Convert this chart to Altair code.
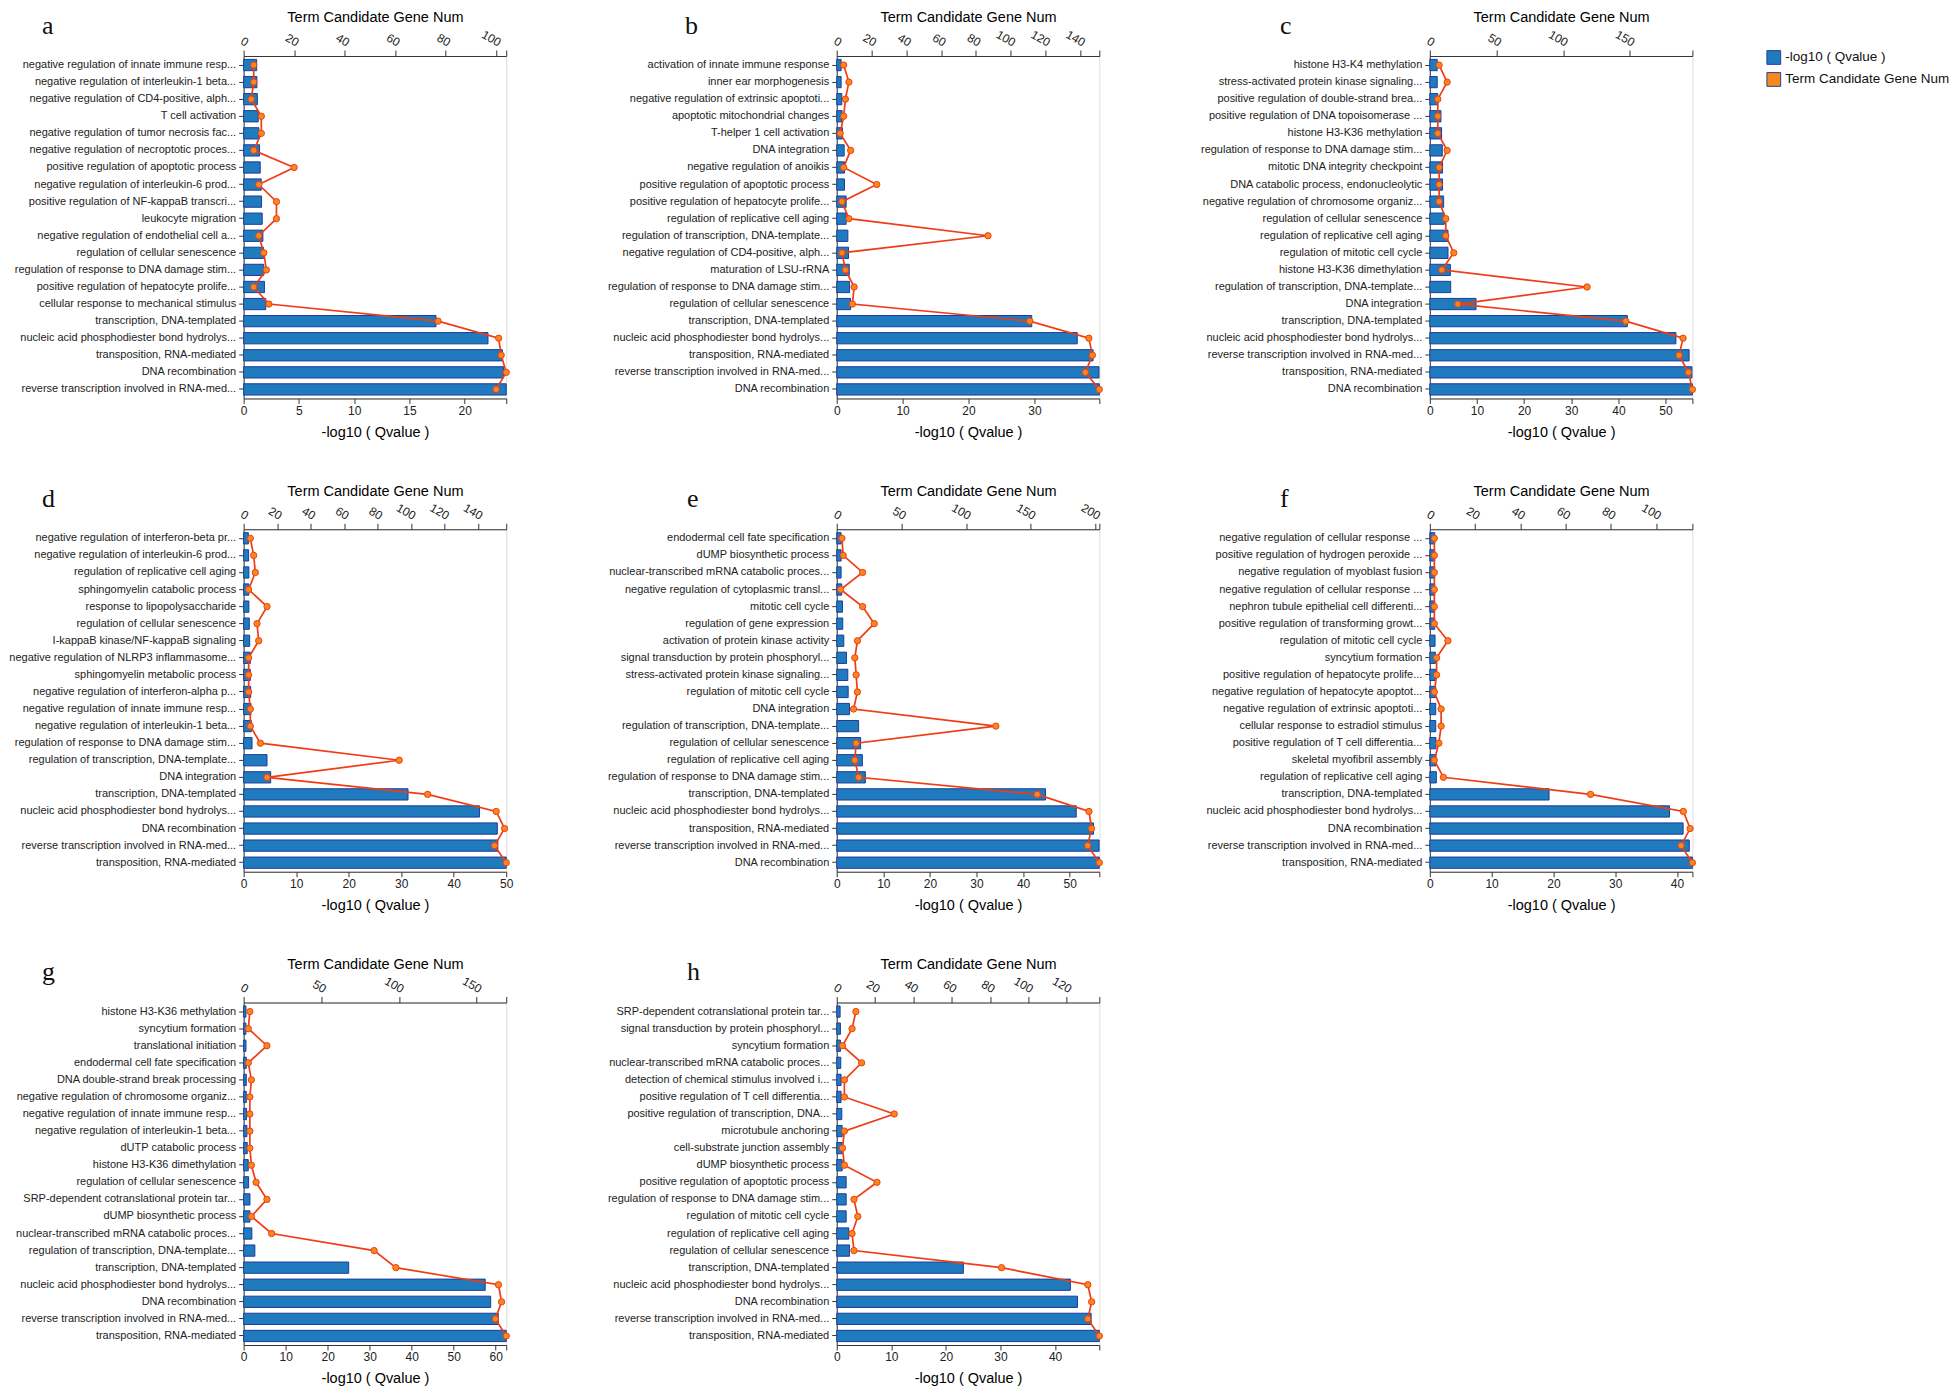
import json
import altair as alt
import pandas as pd

LEG_Q = "-log10 ( Qvalue )"
LEG_G = "Term Candidate Gene Num"

# ---------------- panel a ----------------
a_terms = ["negative regulation of innate immune resp...", "negative regulation of interleukin-1 beta...",
           "negative regulation of CD4-positive, alph...", "T cell activation",
           "negative regulation of tumor necrosis fac...", "negative regulation of necroptotic proces...",
           "positive regulation of apoptotic process", "negative regulation of interleukin-6 prod...",
           "positive regulation of NF-kappaB transcri...", "leukocyte migration",
           "negative regulation of endothelial cell a...", "regulation of cellular senescence",
           "regulation of response to DNA damage stim...", "positive regulation of hepatocyte prolife...",
           "cellular response to mechanical stimulus", "transcription, DNA-templated",
           "nucleic acid phosphodiester bond hydrolys...", "transposition, RNA-mediated",
           "DNA recombination", "reverse transcription involved in RNA-med..."]
a_q = [1.18, 1.2, 1.24, 1.32, 1.38, 1.44, 1.5, 1.59, 1.62, 1.68, 1.74, 1.79, 1.82, 1.88, 2.0, 17.4, 22.1, 23.4, 23.5, 23.75]
a_g = [4, 4, 3, 7, 7, 4, 20, 6, 13, 13, 6, 8, 9, 4, 10, 77, 101, 102, 104, 100]
a_qticks = [0, 5, 10, 15, 20]
a_gticks = [0, 20, 40, 60, 80, 100]

# ---------------- panel b ----------------
b_terms = ["activation of innate immune response", "inner ear morphogenesis",
           "negative regulation of extrinsic apoptoti...", "apoptotic mitochondrial changes",
           "T-helper 1 cell activation", "DNA integration", "negative regulation of anoikis",
           "positive regulation of apoptotic process", "positive regulation of hepatocyte prolife...",
           "regulation of replicative cell aging", "regulation of transcription, DNA-template...",
           "negative regulation of CD4-positive, alph...", "maturation of LSU-rRNA",
           "regulation of response to DNA damage stim...", "regulation of cellular senescence",
           "transcription, DNA-templated", "nucleic acid phosphodiester bond hydrolys...",
           "transposition, RNA-mediated", "reverse transcription involved in RNA-med...", "DNA recombination"]
b_q = [0.67, 0.67, 0.77, 0.82, 0.87, 1.13, 1.18, 1.18, 1.43, 1.43, 1.69, 1.79, 1.9, 1.95, 2.1, 29.6, 36.5, 38.9, 39.8, 39.85]
b_g = [4, 7, 5, 4, 2, 8, 4, 23, 3, 7, 87, 3, 5, 10, 9, 111, 145, 147, 143, 151]
b_qticks = [0, 10, 20, 30]
b_gticks = [0, 20, 40, 60, 80, 100, 120, 140]

# ---------------- panel c ----------------
c_terms = ["histone H3-K4 methylation", "stress-activated protein kinase signaling...",
           "positive regulation of double-strand brea...", "positive regulation of DNA topoisomerase ...",
           "histone H3-K36 methylation", "regulation of response to DNA damage stim...",
           "mitotic DNA integrity checkpoint", "DNA catabolic process, endonucleolytic",
           "negative regulation of chromosome organiz...", "regulation of cellular senescence",
           "regulation of replicative cell aging", "regulation of mitotic cell cycle",
           "histone H3-K36 dimethylation", "regulation of transcription, DNA-template...",
           "DNA integration", "transcription, DNA-templated", "nucleic acid phosphodiester bond hydrolys...",
           "reverse transcription involved in RNA-med...", "transposition, RNA-mediated", "DNA recombination"]
c_q = [1.57, 1.57, 1.7, 2.36, 2.5, 2.65, 2.7, 2.7, 2.93, 3.08, 3.86, 3.86, 4.36, 4.43, 9.8, 41.9, 52.2, 55.0, 55.6, 55.7]
c_g = [7, 13, 6, 6, 6, 13, 7, 7, 7, 12, 12, 18, 9, 118, 21, 147, 190, 187, 194, 197]
c_qticks = [0, 10, 20, 30, 40, 50]
c_gticks = [0, 50, 100, 150]

# ---------------- panel d ----------------
d_terms = ["negative regulation of interferon-beta pr...", "negative regulation of interleukin-6 prod...",
           "regulation of replicative cell aging", "sphingomyelin catabolic process",
           "response to lipopolysaccharide", "regulation of cellular senescence",
           "I-kappaB kinase/NF-kappaB signaling", "negative regulation of NLRP3 inflammasome...",
           "sphingomyelin metabolic process", "negative regulation of interferon-alpha p...",
           "negative regulation of innate immune resp...", "negative regulation of interleukin-1 beta...",
           "regulation of response to DNA damage stim...", "regulation of transcription, DNA-template...",
           "DNA integration", "transcription, DNA-templated", "nucleic acid phosphodiester bond hydrolys...",
           "DNA recombination", "reverse transcription involved in RNA-med...", "transposition, RNA-mediated"]
d_q = [0.9, 0.95, 1.0, 1.0, 1.0, 1.08, 1.15, 1.27, 1.27, 1.34, 1.4, 1.46, 1.6, 4.45, 5.15, 31.3, 44.9, 48.3, 48.4, 50.0]
d_g = [4, 6, 7, 3, 14, 8, 9, 3, 3, 3, 4, 4, 10, 93, 14, 110, 151, 156, 150, 157]
d_qticks = [0, 10, 20, 30, 40, 50]
d_gticks = [0, 20, 40, 60, 80, 100, 120, 140]

# ---------------- panel e ----------------
e_terms = ["endodermal cell fate specification", "dUMP biosynthetic process",
           "nuclear-transcribed mRNA catabolic proces...", "negative regulation of cytoplasmic transl...",
           "mitotic cell cycle", "regulation of gene expression", "activation of protein kinase activity",
           "signal transduction by protein phosphoryl...", "stress-activated protein kinase signaling...",
           "regulation of mitotic cell cycle", "DNA integration", "regulation of transcription, DNA-template...",
           "regulation of cellular senescence", "regulation of replicative cell aging",
           "regulation of response to DNA damage stim...", "transcription, DNA-templated",
           "nucleic acid phosphodiester bond hydrolys...", "transposition, RNA-mediated",
           "reverse transcription involved in RNA-med...", "DNA recombination"]
e_q = [0.94, 0.94, 0.94, 1.08, 1.23, 1.3, 1.52, 2.1, 2.38, 2.46, 2.75, 4.7, 5.13, 5.5, 6.14, 44.8, 51.4, 55.1, 56.3, 56.35]
e_g = [4, 5, 20, 3, 20, 29, 16, 14, 15, 16, 13, 123, 15, 14, 17, 155, 195, 197, 194, 203]
e_qticks = [0, 10, 20, 30, 40, 50]
e_gticks = [0, 50, 100, 150, 200]

# ---------------- panel f ----------------
f_terms = ["negative regulation of cellular response ...", "positive regulation of hydrogen peroxide ...",
           "negative regulation of myoblast fusion", "negative regulation of cellular response ...",
           "nephron tubule epithelial cell differenti...", "positive regulation of transforming growt...",
           "regulation of mitotic cell cycle", "syncytium formation",
           "positive regulation of hepatocyte prolife...", "negative regulation of hepatocyte apoptot...",
           "negative regulation of extrinsic apoptoti...", "cellular response to estradiol stimulus",
           "positive regulation of T cell differentia...", "skeletal myofibril assembly",
           "regulation of replicative cell aging", "transcription, DNA-templated",
           "nucleic acid phosphodiester bond hydrolys...", "DNA recombination",
           "reverse transcription involved in RNA-med...", "transposition, RNA-mediated"]
f_q = [0.8, 0.8, 0.8, 0.8, 0.8, 0.8, 0.85, 0.9, 0.96, 0.96, 0.96, 0.96, 1.0, 1.0, 1.06, 19.3, 38.8, 41.0, 42.0, 42.5]
f_g = [2, 2, 2, 2, 2, 2, 8, 3, 3, 2, 5, 5, 4, 2, 6, 71, 112, 115, 111, 116]
f_qticks = [0, 10, 20, 30, 40]
f_gticks = [0, 20, 40, 60, 80, 100]

# ---------------- panel g ----------------
g_terms = ["histone H3-K36 methylation", "syncytium formation", "translational initiation",
           "endodermal cell fate specification", "DNA double-strand break processing",
           "negative regulation of chromosome organiz...", "negative regulation of innate immune resp...",
           "negative regulation of interleukin-1 beta...", "dUTP catabolic process",
           "histone H3-K36 dimethylation", "regulation of cellular senescence",
           "SRP-dependent cotranslational protein tar...", "dUMP biosynthetic process",
           "nuclear-transcribed mRNA catabolic proces...", "regulation of transcription, DNA-template...",
           "transcription, DNA-templated", "nucleic acid phosphodiester bond hydrolys...",
           "DNA recombination", "reverse transcription involved in RNA-med...", "transposition, RNA-mediated"]
g_q = [0.55, 0.55, 0.55, 0.63, 0.63, 0.63, 0.7, 0.78, 0.86, 1.1, 1.18, 1.5, 1.5, 1.96, 2.67, 25.0, 57.5, 58.8, 60.6, 62.5]
g_g = [4, 3, 15, 3, 5, 4, 4, 4, 4, 5, 8, 15, 5, 18, 84, 98, 164, 166, 162, 169]
g_qticks = [0, 10, 20, 30, 40, 50, 60]
g_gticks = [0, 50, 100, 150]

# ---------------- panel h ----------------
h_terms = ["SRP-dependent cotranslational protein tar...", "signal transduction by protein phosphoryl...",
           "syncytium formation", "nuclear-transcribed mRNA catabolic proces...",
           "detection of chemical stimulus involved i...", "positive regulation of T cell differentia...",
           "positive regulation of transcription, DNA...", "microtubule anchoring",
           "cell-substrate junction assembly", "dUMP biosynthetic process",
           "positive regulation of apoptotic process", "regulation of response to DNA damage stim...",
           "regulation of mitotic cell cycle", "regulation of replicative cell aging",
           "regulation of cellular senescence", "transcription, DNA-templated",
           "nucleic acid phosphodiester bond hydrolys...", "DNA recombination",
           "reverse transcription involved in RNA-med...", "transposition, RNA-mediated"]
h_q = [0.62, 0.68, 0.68, 0.74, 0.8, 0.8, 0.93, 1.0, 1.0, 1.0, 1.73, 1.73, 1.73, 2.22, 2.35, 23.2, 42.8, 44.1, 46.6, 48.1]
h_g = [10, 8, 3, 13, 4, 4, 30, 4, 3, 4, 21, 9, 11, 8, 9, 86, 131, 133, 131, 137]
h_qticks = [0, 10, 20, 30, 40]
h_gticks = [0, 20, 40, 60, 80, 100, 120]

BAR_FILL = "#1f7bbd"
BAR_STROKE = "#1b3c9c"
LINE_COL = "#f03c14"
PT_FILL = "#f5891f"
FONT = "Liberation Sans"

W, H = 263, 343


def ticks_with_end(ticks, vmax):
    vals = sorted(set(ticks + [vmax]))
    expr = "indexof(" + json.dumps(ticks) + ", datum.value) >= 0 ? datum.label : ''"
    return vals, expr


def panel(letter, terms, qv, gv, qticks, gticks, dx, legend=False):
    n = len(terms)
    df = pd.DataFrame({"idx": list(range(n)), "q": qv, "g": gv, "sq": [LEG_Q] * n})
    qmax, gmax = max(qv), max(gv)
    qvals, qexpr = ticks_with_end(qticks, qmax)
    gvals, gexpr = ticks_with_end(gticks, gmax)
    y = alt.Y("idx:O", title=None,
              scale=alt.Scale(paddingInner=0.34, paddingOuter=0.2),
              axis=alt.Axis(labelExpr=json.dumps(terms) + "[datum.value]", labelFont=FONT,
                            labelFontSize=11, labelColor="#222", labelLimit=400,
                            tickSize=5, tickColor="#333", domainColor="#333",
                            labelPadding=3))
    base = alt.Chart(df)
    bar_kwargs = dict(
        x=alt.X("q:Q", scale=alt.Scale(domain=[0, qmax], nice=False, zero=True),
                axis=alt.Axis(orient="bottom", values=qvals, labelExpr=qexpr, title=LEG_Q,
                              titleFont=FONT, titleFontSize=14.5, titleFontWeight="normal",
                              titlePadding=9, labelFont=FONT, labelFontSize=12,
                              labelColor="#222", tickSize=5, tickColor="#333",
                              domainColor="#333", grid=False, labelOverlap=False,
                              labelFlush=False)),
        y=y)
    if legend:
        fill_scale = alt.Scale(domain=[LEG_Q, LEG_G], range=[BAR_FILL, PT_FILL])
        leg = alt.Legend(title=None, orient="none", legendX=1525, legendY=-6,
                         symbolType="square", symbolSize=190, symbolStrokeWidth=1,
                         symbolStrokeColor="#2a3f9a", labelFont=FONT, labelFontSize=13.5,
                         labelColor="#111", rowPadding=3, labelLimit=400)
        bar_kwargs["fill"] = alt.Fill("sq:N", scale=fill_scale, legend=leg)
    bars = base.mark_bar(fill=BAR_FILL, stroke=BAR_STROKE, strokeWidth=1).encode(**bar_kwargs)

    line = base.mark_line(
        color=LINE_COL, strokeWidth=1.7,
        point=alt.OverlayMarkDef(filled=True, fill=PT_FILL, stroke=LINE_COL, strokeWidth=1,
                                 size=40, opacity=1)
    ).encode(
        x=alt.X("g:Q", scale=alt.Scale(domain=[0, gmax], nice=False, zero=True),
                axis=alt.Axis(orient="top", values=gvals, labelExpr=gexpr, title=LEG_G,
                              titleFont=FONT, titleFontSize=14.5, titleFontWeight="normal",
                              titlePadding=3, labelFont=FONT, labelFontSize=12,
                              labelColor="#222", labelAngle=30, labelAlign="right",
                              labelBaseline="bottom", tickSize=6, tickColor="#333",
                              domainColor="#333", grid=False, labelOverlap=False,
                              labelFlush=False, labelPadding=1)),
        y=y, order=alt.Order("idx:O"))

    ch = alt.layer(bars, line).resolve_scale(x="independent").properties(
        width=W, height=H,
        title=alt.TitleParams(letter, anchor="start", frame="group", dx=dx, dy=33,
                              font="Liberation Serif", fontSize=26, fontWeight="normal",
                              color="#111"))
    return ch


pa = panel("a", a_terms, a_q, a_g, a_qticks, a_gticks, -202, legend=True)
pb = panel("b", b_terms, b_q, b_g, b_qticks, b_gticks, -152)
pc = panel("c", c_terms, c_q, c_g, c_qticks, c_gticks, -150)
pd_ = panel("d", d_terms, d_q, d_g, d_qticks, d_gticks, -202)
pe = panel("e", e_terms, e_q, e_g, e_qticks, e_gticks, -150)
pf = panel("f", f_terms, f_q, f_g, f_qticks, f_gticks, -150)
pg = panel("g", g_terms, g_q, g_g, g_qticks, g_gticks, -202)
ph = panel("h", h_terms, h_q, h_g, h_qticks, h_gticks, -150)

chart = alt.concat(pa, pb, pc, pd_, pe, pf, pg, ph, columns=3,
                   spacing=alt.RowColnumber(row=131, column=331), bounds="flush").properties(
    padding={"left": 0, "top": 0, "right": 2, "bottom": 2}
).configure_view(stroke=None).configure(background="white")

chart.save("out.html", embed_options={"renderer": "svg", "actions": False})
